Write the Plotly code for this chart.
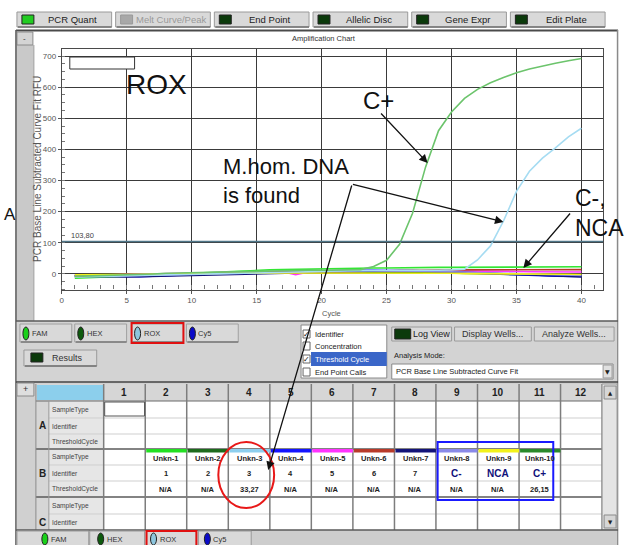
import plotly.graph_objects as go

W, H = 636, 545

# ---------------- data ----------------
cycles = list(range(1, 41))
x_ticks = [0, 5, 10, 15, 20, 25, 30, 35, 40]
y_ticks = [0, 100, 200, 300, 400, 500, 600, 700]
threshold = 103.80
threshold_label = "103,80"

unkn1 = [-14, -13, -11, -9, -7, -5, -3, -1, 1, 3, 5, 7, 9, 11, 12, 13, 14, 15, 16, 17,
         17, 18, 18, 19, 19, 20, 20, 20, 21, 21, 21, 21, 22, 22, 22, 22, 22, 22, 23, 23]
unkn2 = [-6, -6, -7, -7, -6, -5, -4, -3, -2, -1, 0, 1, 2, 3, 4, 4, 5, 5, 6, 6,
         6, 7, 7, 7, 7, 6, 6, 5, 4, 3, 2, 1, 0, -1, -2, -3, -4, -5, -6, -7]
unkn3 = [-10, -9, -8, -7, -6, -5, -4, -3, -1, 0, 1, 2, 3, 4, 5, 6, 7, 8, 8, 9,
         9, 10, 10, 10, 10, 11, 11, 12, 12, 13, 15, 45, 90, 170, 265, 330, 372, 405, 440, 468]
unkn4 = [-4, -5, -7, -9, -10, -9, -7, -5, -3, -1, 1, 3, 4, 5, 6, 7, 8, 9, 10, 10,
         11, 11, 12, 12, 12, 11, 10, 9, 8, 6, 4, 2, 0, -2, -3, -5, -6, -7, -8, -8]
unkn5 = [-5, -4, -3, -2, -1, 0, 1, 2, 3, 4, 4, 5, 5, 6, 6, 6, 7, -2, 6, 6,
         7, 8, 8, 9, 9, 10, 10, 10, 10, 10, 9, 9, 8, 8, 8, 7, 7, 7, 6, 6]
unkn6 = [-8, -7, -6, -5, -4, -3, -2, -1, 0, 1, 2, 3, 4, 5, 5, 6, 6, 7, 7, 8,
         8, 9, 9, 10, 10, 11, 11, 12, 12, 13, 13, 13, 14, 14, 14, 14, 14, 14, 14, 14]
unkn7 = [-7, -8, -9, -10, -10, -9, -8, -7, -5, -4, -2, -1, 0, 1, 2, 3, 4, 5, 6, 7,
         8, 9, 10, 10, 11, 11, 11, 10, 9, 8, 6, 4, 2, 0, -2, -4, -6, -7, -9, -10]
unkn8 = [-9, -9, -8, -7, -6, -5, -4, -3, -2, -1, 0, 1, 2, 3, 4, 5, 6, 7, 8, 8,
         9, 9, 10, 10, 10, 10, 9, 9, 8, 7, 6, 4, 3, 1, 0, -1, -2, -3, -4, -5]
unkn9 = [-3, -3, -2, -2, -1, -1, 0, 0, 1, 1, 2, 2, 2, 3, 3, 3, 3, 4, 4, 4,
         4, 4, 4, 4, 4, 3, 3, 3, 2, 2, 1, 1, 0, 0, 0, -1, -1, -1, -1, -2]
unkn10 = [-8, -7, -6, -5, -4, -2, 0, 2, 3, 5, 6, 7, 8, 9, 10, 10, 11, 11, 12, 12,
          13, 13, 14, 24, 44, 95, 195, 343, 460, 520, 564, 593, 614, 631, 646, 658, 668, 677, 685, 692]

sample_types = ["Unkn-1", "Unkn-2", "Unkn-3", "Unkn-4", "Unkn-5", "Unkn-6", "Unkn-7",
                "Unkn-8", "Unkn-9", "Unkn-10"]
identifiers = ["1", "2", "3", "4", "5", "6", "7", "C-", "NCA", "C+"]
threshold_cycles = ["N/A", "N/A", "33,27", "N/A", "N/A", "N/A", "N/A", "N/A", "N/A", "26,15"]
well_colors = ["#22e022", "#1d6b1d", "#8ecfee", "#1414ff", "#ff33ff", "#b83a2a", "#14147a",
               "#8a8ae8", "#f2f21a", "#2a8a2a"]
line_colors = ["#33e633", "#1d6b1d", "#a6dcf2", "#1414ff", "#ff33ff", "#b83a2a", "#14147a",
               "#8a8ae8", "#f2f21a", "#6cc46c"]
series = [unkn1, unkn2, unkn3, unkn4, unkn5, unkn6, unkn7, unkn8, unkn9, unkn10]
col_numbers = [str(i) for i in range(1, 13)]
row_labels = ["SampleType", "Identifier", "ThresholdCycle"]

FONT = "Liberation Sans"


def X(px):
    return px / W


def Y(py):
    return 1 - py / H


fig = go.Figure()
draw_order = [0, 1, 3, 4, 5, 6, 7, 8, 2, 9]
for i in draw_order:
    fig.add_trace(go.Scatter(x=cycles, y=series[i], mode="lines", name=sample_types[i],
                             line=dict(color=line_colors[i], width=1.6),
                             hoverinfo="skip", showlegend=False))

shapes = []


def rect(x0, y0, x1, y1, fill=None, line=None, lw=1):
    shapes.append(dict(type="rect", xref="paper", yref="paper",
                       x0=X(x0), x1=X(x1), y0=Y(y1), y1=Y(y0),
                       fillcolor=fill if fill else "rgba(0,0,0,0)",
                       line=dict(color=line if line else "rgba(0,0,0,0)", width=lw if line else 0),
                       layer="above"))


def ellipse(x0, y0, x1, y1, fill=None, line=None, lw=1):
    shapes.append(dict(type="circle", xref="paper", yref="paper",
                       x0=X(x0), x1=X(x1), y0=Y(y1), y1=Y(y0),
                       fillcolor=fill if fill else "rgba(0,0,0,0)",
                       line=dict(color=line if line else "rgba(0,0,0,0)", width=lw if line else 0),
                       layer="above"))


def seg(x0, y0, x1, y1, color, lw=1):
    shapes.append(dict(type="line", xref="paper", yref="paper",
                       x0=X(x0), x1=X(x1), y0=Y(y0), y1=Y(y1),
                       line=dict(color=color, width=lw), layer="above"))


def txt(x, y, s, size=8, color="#222", xanchor="center", yanchor="middle", family=FONT, angle=0,
        align="center"):
    fig.add_annotation(xref="paper", yref="paper", x=X(x), y=Y(y), text=s, showarrow=False,
                       xanchor=xanchor, yanchor=yanchor, textangle=angle, align=align,
                       font=dict(size=size, color=color, family=family))


def arrow(x0, y0, x1, y1):
    fig.add_annotation(xref="paper", yref="paper", x=X(x1), y=Y(y1), ax=x0 - x1, ay=y0 - y1,
                       axref="pixel", ayref="pixel", text="", showarrow=True,
                       arrowhead=2, arrowsize=1.3, arrowwidth=1.3, arrowcolor="#111",
                       standoff=0, startstandoff=0)


# ---------------- top toolbar ----------------
top_buttons = ["PCR Quant", "Melt Curve/Peak", "End Point", "Allelic Disc", "Gene Expr", "Edit Plate"]
for k, name in enumerate(top_buttons):
    bx = 15 + 99 * k
    rect(bx, 12, bx + 95, 27, fill="#d9d9d9", line="#9a9a9a", lw=1)
    seg(bx + 1, 27, bx + 95, 27, "#707070", 1.5)
    if k == 0:
        led = "#22cc22"
    elif k == 1:
        led = "#a8a8a8"
    else:
        led = "#0b3a0b"
    rect(bx + 5, 15, bx + 17, 24, fill=led, line="#222" if k != 1 else "#999", lw=1)
    txt(bx + 56, 19.5, name, size=9.5, color="#9a9a9a" if k == 1 else "#222")

# ---------------- chart window frame ----------------
seg(14, 30.5, 618, 30.5, "#4a4a4a", 2)
rect(14, 45, 32, 321, fill="#c9c9c9")
seg(32, 45, 32, 321, "#a0a0a0", 1)
rect(15, 32, 31, 45, fill="#d4d4d4", line="#8a8a8a", lw=1)
txt(23, 38, "-", size=8, color="#333")
seg(14, 30, 14, 545, "#5a5a5a", 1.5)
seg(617.5, 30, 617.5, 545, "#8a8a8a", 1.5)
txt(323, 38, "Amplification Chart", size=7.5, color="#333")

# y-axis title and x-axis title
txt(36, 169, "PCR Base Line Subtracted Curve Fit RFU", size=10, color="#555", angle=-90)
txt(331, 313, "Cycle", size=7.5, color="#555")

# threshold line and label
shapes.append(dict(type="line", xref="x", yref="y", x0=0, x1=41.67, y0=threshold, y1=threshold,
                   line=dict(color="#4f7688", width=1.5), layer="above"))
txt(67, 235, threshold_label, size=7.5, color="#444", xanchor="left")

# empty legend box
rect(68, 57, 133, 69, fill="white", line="#333", lw=1)

# ---------------- lower control panel ----------------
rect(15, 321, 617, 382, fill="#d3d3d3")
seg(14, 321, 618, 321, "#5a5a5a", 1.5)
dyes = ["FAM", "HEX", "ROX", "Cy5"]
dye_colors = ["#19d019", "#0d5a0d", "#8ec6de", "#0a0ac8"]
dye_btn_x = [18, 73, 130, 185]
for name, c, bx in zip(dyes, dye_colors, dye_btn_x):
    rect(bx, 324, bx + 52, 342, fill="#d9d9d9", line="#a0a0a0", lw=1)
    seg(bx + 1, 342, bx + 52, 342, "#7a7a7a", 1.5)
    ellipse(bx + 3, 327, bx + 9, 340, fill=c, line="#222", lw=1)
    txt(bx + 10, 333, name, size=7.5, color="#333", xanchor="left")
rect(130, 323, 182, 343, line="#e01010", lw=2)

rect(22, 350, 95, 366, fill="#d9d9d9", line="#9a9a9a", lw=1)
seg(23, 366, 95, 366, "#707070", 1.5)
rect(29, 353, 41, 362, fill="#0b3a0b", line="#222", lw=1)
txt(66, 357.5, "Results", size=9, color="#333")

# check list
rect(300, 325, 386, 378, fill="white", line="#8a8a8a", lw=1)
rect(310, 352, 386, 366, fill="#3a66c8")
check_items = ["Identifier", "Concentration", "Threshold Cycle", "End Point Calls"]
check_y = [334, 346, 359, 372]
checked = [True, False, True, False]
for item, cy, ck in zip(check_items, check_y, checked):
    rect(302, cy - 4, 309, cy + 4, fill="white", line="#666", lw=1)
    if ck:
        txt(305.5, cy, "✓", size=8, color="#111", family="DejaVu Sans")
    txt(312, cy, item, size=7.5, color="white" if item == "Threshold Cycle" else "#222", xanchor="left")

# right-side buttons
rect(391, 327, 451, 341, fill="#d9d9d9", line="#9a9a9a", lw=1)
rect(394, 329, 410, 339, fill="#0b3a0b", line="#222", lw=1)
txt(431, 334, "Log View", size=9, color="#222")
rect(454, 327, 531, 341, fill="#d9d9d9", line="#9a9a9a", lw=1)
txt(492, 334, "Display Wells...", size=9, color="#333")
rect(534, 327, 614, 341, fill="#d9d9d9", line="#9a9a9a", lw=1)
txt(574, 334, "Analyze Wells...", size=9, color="#333")
txt(391, 355, "Analysis Mode:", size=7.5, color="#222", xanchor="left")
rect(391, 364, 613, 379, fill="white", line="#888", lw=1)
txt(393, 371.5, "PCR Base Line Subtracted Curve Fit", size=7.5, color="#222", xanchor="left")
rect(603, 365, 612, 378, fill="#e0e0e0", line="#999", lw=1)
txt(607.5, 371.5, "▼", size=6, color="#222", family="DejaVu Sans")

# ---------------- plate table ----------------
rect(15, 382, 617, 530, fill="#d0d0d0")
seg(14, 382, 618, 382, "#444", 1.5)
rect(34, 384, 602, 401, fill="#d6d6d6")
rect(35, 385, 102, 400, fill="#8ccfec")
rect(15, 383, 32, 396, fill="#dedede", line="#8a8a8a", lw=1)
txt(23.5, 389, "+", size=9, color="#333")

col_edges = [102, 143.7, 185.3, 227, 268.7, 310.3, 352, 393.7, 435.3, 477, 518.7, 560.3, 602]
row_edges = [401, 418, 434, 449, 465, 481, 497, 514, 530]

rect(34, 401, 47, 530, fill="#d6d6d6")
rect(47, 401, 102, 530, fill="#e6e6e6")
rect(102, 401, 602, 530, fill="white")

for k, lab in enumerate(col_numbers):
    cx = (col_edges[k] + col_edges[k + 1]) / 2
    txt(cx, 392.5, "<b>" + lab + "</b>", size=10, color="#222")

# row separators
for r in range(1, 8):
    ry = row_edges[r]
    if r in (3, 6):
        seg(34, ry, 602, ry, "#5a5a5a", 1.5)
    else:
        seg(47, ry, 602, ry, "#cfcfcf", 1)
seg(34, 401, 602, 401, "#6a6a6a", 1.2)
for cxe in col_edges:
    seg(cxe, 384, cxe, 530, "#7d7d7d", 1.5)
seg(47, 401, 47, 530, "#9a9a9a", 1)
seg(34, 384, 34, 530, "#8a8a8a", 1)

for blk, letter in enumerate(["A", "B", "C"]):
    for r, lab in enumerate(row_labels):
        idx = blk * 3 + r
        if idx >= 8:
            break
        cy = (row_edges[idx] + row_edges[idx + 1]) / 2
        txt(48.5, cy, lab, size=6.6, color="#444", xanchor="left")
letter_y = [425.5, 473, 522]
for letter, ly in zip(["A", "B", "C"], letter_y):
    txt(40.5, ly, "<b>" + letter + "</b>", size=10, color="#222")

# selected A1 cell
rect(103, 402, 143, 416, line="#555", lw=1)

# B row contents
for k in range(10):
    c0 = col_edges[k + 1]
    c1 = col_edges[k + 2]
    cx = (c0 + c1) / 2
    rect(c0 + 1, 449, c1, 452.5, fill=well_colors[k])
    txt(cx, 458, "<b>" + sample_types[k] + "</b>", size=7.5, color="#222")
    ident = identifiers[k]
    if ident in ("C-", "NCA", "C+"):
        txt(cx, 473.5, "<b>" + ident + "</b>", size=10, color="#10107a")
    else:
        txt(cx, 473.5, "<b>" + ident + "</b>", size=7.5, color="#222")
    txt(cx, 489, "<b>" + threshold_cycles[k] + "</b>", size=7.5, color="#222")

# scrollbar
rect(602, 384, 617, 530, fill="#e4e4e4", line="#9a9a9a", lw=1)
rect(604, 386, 616, 399, fill="#d6d6d6", line="#8a8a8a", lw=1)
txt(610, 392.5, "▲", size=5.5, color="#222", family="DejaVu Sans")
rect(604, 515, 616, 528, fill="#d6d6d6", line="#8a8a8a", lw=1)
txt(610, 521.5, "▼", size=5.5, color="#222", family="DejaVu Sans")

# bottom tab bar
rect(15, 530, 617, 545, fill="#cdcdcd")
seg(14, 530, 618, 530, "#5a5a5a", 1.5)
tab_x = [(15, 87), (88, 143), (145, 195), (197, 250)]
tab_led = [40, 96, 149, 203]
for name, c, (t0, t1), lx in zip(dyes, dye_colors, tab_x, tab_led):
    rect(t0, 531, t1, 546, fill="#d9d9d9", line="#9a9a9a", lw=1)
    ellipse(lx, 533, lx + 6, 545, fill=c, line="#222", lw=1)
    txt(lx + 7, 539, name, size=7.5, color="#333", xanchor="left")
rect(145, 531, 195, 547, line="#e01010", lw=2)

# highlight marks
ellipse(217, 442, 273, 508, line="#e81818", lw=2)
rect(437, 442, 553, 500, line="#1a1aff", lw=2)

# ---------------- big annotation texts ----------------
txt(155, 84, "ROX", size=28, color="#111")
txt(378, 101, "C+", size=24, color="#111")
txt(220, 181, "M.hom. DNA<br>is found", size=22, color="#111", xanchor="left", align="left")
txt(573, 213, "C-,<br>NCA", size=23, color="#111", xanchor="left", align="left")
txt(0, 214, "A", size=17, color="#111", xanchor="left")

arrow(379, 112, 427, 163)
arrow(351, 184, 503, 222)
arrow(351, 184, 267, 470)
arrow(571, 212, 523, 268)

fig.update_layout(
    width=W, height=H, margin=dict(l=0, r=0, t=0, b=0),
    paper_bgcolor="white", plot_bgcolor="white", showlegend=False,
    shapes=shapes,
    xaxis=dict(domain=[X(60), X(603)], range=[0, 41.67], tickvals=x_ticks,
               showgrid=True, gridcolor="#3a3a3a", gridwidth=1, zeroline=False,
               showline=True, linecolor="#4a4a4a", linewidth=1.2, mirror=True,
               ticks="outside", ticklen=3, tickcolor="#555",
               tickfont=dict(size=8, color="#555", family=FONT),
               minor=dict(dtick=1, ticks="inside", ticklen=4, tickcolor="#777", showgrid=False)),
    yaxis=dict(domain=[Y(289.5), Y(49)], range=[-50, 722.5], tickvals=y_ticks,
               showgrid=True, gridcolor="#3a3a3a", gridwidth=1, zeroline=False,
               showline=True, linecolor="#4a4a4a", linewidth=1.2, mirror=True,
               ticks="outside", ticklen=3, tickcolor="#555",
               tickfont=dict(size=8, color="#555", family=FONT),
               minor=dict(dtick=25, ticks="inside", ticklen=3, tickcolor="#777", showgrid=False)),
)

fig.write_html("out.html")
